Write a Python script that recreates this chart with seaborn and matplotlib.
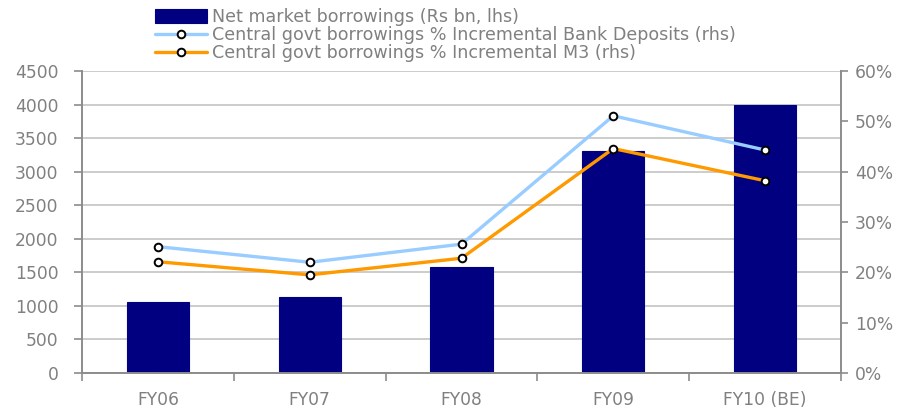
import numpy as np
import pandas as pd
import matplotlib
matplotlib.use("Agg")
import matplotlib.pyplot as plt
import seaborn as sns
from matplotlib.ticker import FixedLocator, PercentFormatter

categories = ["FY06", "FY07", "FY08", "FY09", "FY10 (BE)"]
net_borrowings = [1065, 1130, 1585, 3315, 3990]
pct_bank_deposits = [25.1, 22.0, 25.6, 51.1, 44.3]
pct_m3 = [22.1, 19.5, 22.8, 44.6, 38.2]

label_bar = "Net market borrowings (Rs bn, lhs)"
label_dep = "Central govt borrowings % Incremental Bank Deposits (rhs)"
label_m3 = "Central govt borrowings % Incremental M3 (rhs)"

sns.set_theme(style="white")
plt.rcParams["font.family"] = ["DejaVu Sans"]

TXT = "#808080"
GRID = "#c8c8c8"
SPINE = "#8c8c8c"
FS = 12.3
LFS = 12.6

df = pd.DataFrame({"cat": categories, "val": net_borrowings})
pos = np.arange(len(categories))
ldf = pd.DataFrame({"x": pos, "dep": pct_bank_deposits, "m3": pct_m3})

fig = plt.figure(figsize=(9, 4.11), dpi=100)
ax = fig.add_axes([82 / 900, 38 / 411, (841 - 82) / 900, (373 - 71) / 411])

sns.barplot(data=df, x="cat", y="val", color="#000080", width=0.41,
            edgecolor="#000080", linewidth=0.8, saturation=1, ax=ax,
            label=label_bar, zorder=2)
if ax.get_legend() is not None:
    ax.get_legend().remove()
ax.set_xlim(-0.5, len(categories) - 0.5)
ax.set_ylim(0, 4500)
ax.set_yticks(np.arange(0, 4501, 500))
ax.yaxis.grid(True, color=GRID, linewidth=1.3, zorder=0)
ax.set_axisbelow(True)
ax.set_xlabel("")
ax.set_ylabel("")

ax2 = ax.twinx()
sns.lineplot(data=ldf, x="x", y="dep", color="#99ccff", linewidth=2.4,
             marker="o", markersize=5.5, markerfacecolor="white",
             markeredgecolor="black", markeredgewidth=1.4, ax=ax2,
             label=label_dep, legend=False)
sns.lineplot(data=ldf, x="x", y="m3", color="#ff9900", linewidth=2.4,
             marker="o", markersize=5.5, markerfacecolor="white",
             markeredgecolor="black", markeredgewidth=1.4, ax=ax2,
             label=label_m3, legend=False)
if ax2.get_legend() is not None:
    ax2.get_legend().remove()
ax2.set_ylim(0, 60)
ax2.set_yticks(np.arange(0, 61, 10))
ax2.yaxis.set_major_formatter(PercentFormatter(decimals=0))
ax2.set_xlim(-0.5, len(categories) - 0.5)
ax2.set_xlabel("")
ax2.set_ylabel("")

for a in (ax, ax2):
    for s in a.spines.values():
        s.set_visible(False)
ax.spines["left"].set_visible(True)
ax.spines["bottom"].set_visible(True)
ax2.spines["right"].set_visible(True)
for s in (ax.spines["left"], ax.spines["bottom"], ax2.spines["right"]):
    s.set_color(SPINE)
    s.set_linewidth(1.4)

ax.tick_params(axis="y", which="major", direction="out", length=6, width=1.2,
               color=SPINE, labelsize=FS, labelcolor=TXT, pad=11, left=True)
ax2.tick_params(axis="y", which="major", direction="out", length=5, width=1.2,
                color=SPINE, labelsize=FS, labelcolor=TXT, pad=5, right=True)
ax.set_xticks(pos)
ax.set_xticklabels(categories)
ax.tick_params(axis="x", which="major", direction="in", length=3, width=1.0,
               color=SPINE, labelsize=FS, labelcolor=TXT, pad=13, bottom=True)
ax.xaxis.set_minor_locator(FixedLocator(np.arange(-0.5, len(categories), 1.0)))
ax.tick_params(axis="x", which="minor", direction="out", length=6, width=1.2,
               color=SPINE, bottom=True)
ax2.tick_params(axis="x", which="both", bottom=False, top=False, labelbottom=False)

h1, l1 = ax.get_legend_handles_labels()
h2, l2 = ax2.get_legend_handles_labels()
leg = fig.legend(h1 + h2, l1 + l2, loc="upper left",
                 bbox_to_anchor=(155 / 900, 1 - 8 / 411), frameon=False,
                 fontsize=LFS, labelspacing=0.0, handlelength=2.95,
                 handleheight=0.8, handletextpad=0.3, borderpad=0,
                 borderaxespad=0)
for t in leg.get_texts():
    t.set_color(TXT)

fig.savefig("out.png", dpi=100)
